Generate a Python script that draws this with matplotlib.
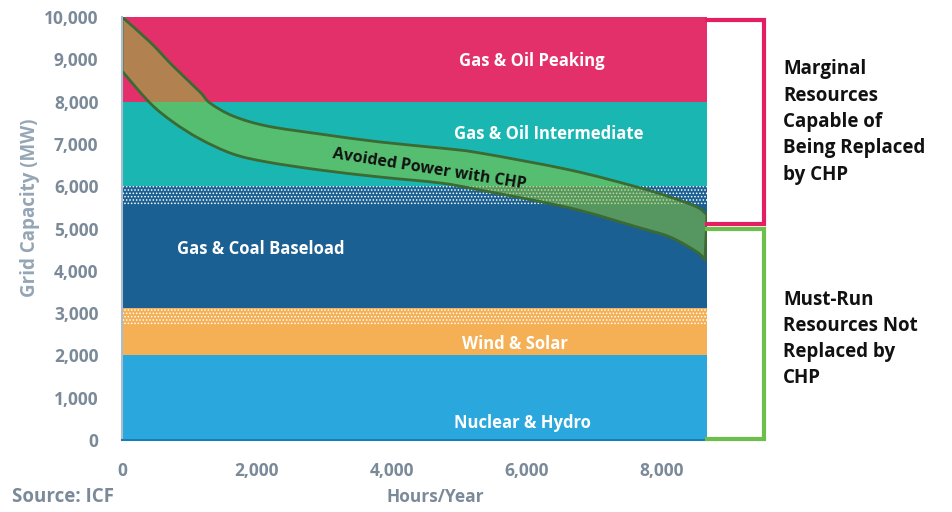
import matplotlib
matplotlib.use("Agg")
import matplotlib.pyplot as plt
from matplotlib.lines import Line2D
from matplotlib.path import Path
from matplotlib.patches import PathPatch

plt.rcParams['font.family'] = ['Open Sans', 'DejaVu Sans']
plt.rcParams['hatch.linewidth'] = 0.7

# ---- data ----
hours = [0, 8670]
layer_names = ["Nuclear & Hydro", "Wind & Solar", "Wind & Solar (flex)", "Gas & Coal Baseload",
               "Gas & Coal (flex)", "Gas & Oil Intermediate", "Gas & Oil Peaking"]
layer_bottoms = [0, 2000, 2720, 3120, 5550, 6000, 8000]
layer_tops = [2000, 2720, 3120, 5550, 6000, 8000, 10000]
layer_colors = ["#2AA8DE", "#F5B055", "#F5B055", "#1B6092", "#1B6092", "#1AB7B2", "#E3306B"]
layer_hatched = [False, False, True, False, True, False, False]

label_text = ["Nuclear & Hydro", "Wind & Solar", "Gas & Coal Baseload",
              "Gas & Oil Intermediate", "Gas & Oil Peaking"]
label_x = [5930, 5820, 2060, 6330, 6080]
label_y = [400, 2270, 4515, 7240, 8960]

upper_x = [0, 415, 756, 1156, 1304, 1645, 2149, 2934, 3824, 4713, 5306, 6640, 7632, 8121, 8522, 8670]
upper_y = [10000, 9409, 8842, 8227, 7967, 7660, 7423, 7234, 7045, 6903, 6785, 6383, 5981, 5745, 5508, 5319]
lower_x = [0, 415, 756, 1156, 1645, 2149, 2934, 3824, 4713, 5306, 6640, 7632, 8121, 8522, 8640]
lower_y = [8723, 7967, 7518, 7116, 6761, 6572, 6383, 6217, 6076, 5910, 5485, 5035, 4799, 4444, 4255]

x_ticks = [0, 2000, 4000, 6000, 8000]
y_ticks = list(range(0, 10001, 1000))


def smooth_segments(xs, ys):
    """Catmull-Rom through the read points, as cubic Bezier path segments."""
    pts = list(zip(xs, ys))
    verts, codes = [], []
    n = len(pts)
    for i in range(n - 1):
        p0 = pts[i - 1] if i > 0 else pts[i]
        p1 = pts[i]
        p2 = pts[i + 1]
        p3 = pts[i + 2] if i + 2 < n else pts[i + 1]
        c1 = (p1[0] + (p2[0] - p0[0]) / 6, p1[1] + (p2[1] - p0[1]) / 6)
        c2 = (p2[0] - (p3[0] - p1[0]) / 6, p2[1] - (p3[1] - p1[1]) / 6)
        verts += [c1, c2, p2]
        codes += [Path.CURVE4] * 3
    return verts, codes


# ---- figure ----
W, H = 953, 512
fig = plt.figure(figsize=(W / 100, H / 100), dpi=100)
ax = fig.add_axes([122 / W, 1 - 440 / H, 585 / W, 423 / H])

for b, t, c, h in zip(layer_bottoms, layer_tops, layer_colors, layer_hatched):
    if h:
        ax.fill_between(hours, b, t, facecolor=c, edgecolor="white", hatch=".....", linewidth=0)
    else:
        ax.fill_between(hours, b, t, color=c, linewidth=0)

for txt, x, y in zip(label_text, label_x, label_y):
    ax.text(x, y, txt, color="white", fontsize=12, fontweight="bold", ha="center", va="center")

uv, uc = smooth_segments(upper_x, upper_y)
lv, lc = smooth_segments(lower_x[::-1], lower_y[::-1])
verts = [(upper_x[0], upper_y[0])] + uv + [(lower_x[-1], lower_y[-1])] + lv + [(upper_x[0], upper_y[0])]
codes = [Path.MOVETO] + uc + [Path.LINETO] + lc + [Path.CLOSEPOLY]
band = Path(verts, codes)
ax.add_patch(PathPatch(band, facecolor="#88C43A", alpha=0.55, edgecolor="none"))
ax.add_patch(PathPatch(band, facecolor="none", edgecolor="#3B6A33", linewidth=2, joinstyle="round"))
ax.text(4560, 6390, "Avoided Power with CHP", rotation=-9, fontsize=11.5, fontweight="bold",
        color="#111111", ha="center", va="center", rotation_mode="anchor")

ax.set_xlim(0, 8670)
ax.set_ylim(0, 10000)
ax.set_xticks(x_ticks)
ax.set_xticklabels([f"{v:,}" for v in x_ticks])
ax.set_yticks(y_ticks)
ax.set_yticklabels([f"{v:,}" for v in y_ticks])
tick_col = "#7B8A99"
ax.tick_params(axis="both", length=0, labelsize=12.5, labelcolor=tick_col)
ax.tick_params(axis="x", pad=16)
ax.tick_params(axis="y", pad=17)
for lab in ax.get_xticklabels() + ax.get_yticklabels():
    lab.set_fontweight("bold")
for s in ["top", "right"]:
    ax.spines[s].set_visible(False)
ax.spines["left"].set_color("#A9BCD0")
ax.spines["left"].set_linewidth(1.5)
ax.spines["bottom"].set_color("#1A7BB5")
ax.spines["bottom"].set_linewidth(1.5)

fig.text(30 / W, 1 - 208 / H, "Grid Capacity (MW)", rotation=90, fontsize=13.5, fontweight="bold",
         color="#94A5B5", ha="center", va="center")
fig.text(12 / W, 1 - 497 / H, "Source: ICF", fontsize=13.5, fontweight="bold", color=tick_col,
         ha="left", va="center")
fig.text(435 / W, 1 - 497 / H, "Hours/Year", fontsize=12.5, fontweight="bold", color=tick_col,
         ha="center", va="center")


def fx(p):
    return p / W


def fy(p):
    return 1 - p / H


pink = "#E31E63"
green = "#6CBF4A"
fig.add_artist(Line2D([fx(707), fx(764), fx(764), fx(707)], [fy(19.5), fy(19.5), fy(224), fy(224)],
                      color=pink, linewidth=3, solid_joinstyle="miter"))
fig.add_artist(Line2D([fx(707), fx(764), fx(764), fx(707)], [fy(229), fy(229), fy(439), fy(439)],
                      color=green, linewidth=3, solid_joinstyle="miter"))

fig.text(783 / W, 1 - 122 / H, "Marginal\nResources\nCapable of\nBeing Replaced\nby CHP",
         fontsize=13.5, fontweight="bold", color="#111111", ha="left", va="center", linespacing=1.42)
fig.text(783 / W, 1 - 339 / H, "Must-Run\nResources Not\nReplaced by\nCHP",
         fontsize=13.5, fontweight="bold", color="#111111", ha="left", va="center", linespacing=1.42)

fig.savefig("out.png", dpi=100)
